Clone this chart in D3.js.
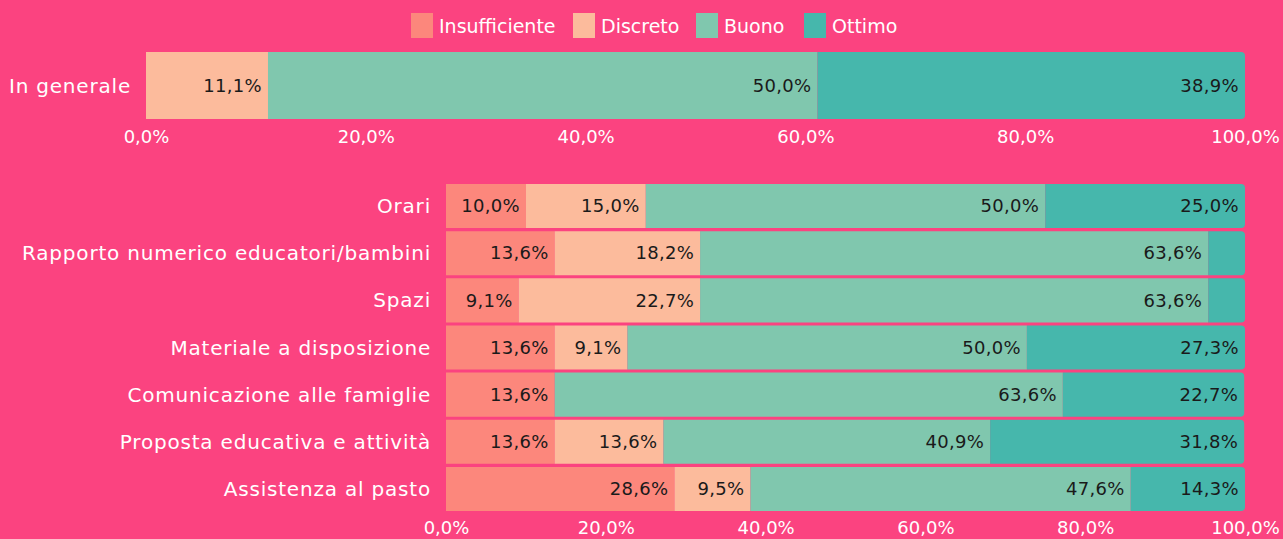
<html>
<head>
<script src="https://d3js.org/d3.v7.min.js"></script>
<style>
    body { margin: 0; }
</style>
</head>
<body>
<div id="graph"></div>
<script>
    var series = ["Insufficiente", "Discreto", "Buono", "Ottimo"];
    var colors = ["#fc877c", "#fcbb9c", "#80c7ae", "#46b7ac"];

    var topCategories = ["In generale"];
    var topValues = [
        [0, 11.1, 50.0, 38.9]
    ];

    var categories = ["Orari", "Rapporto numerico educatori/bambini", "Spazi", "Materiale a disposizione",
        "Comunicazione alle famiglie", "Proposta educativa e attività", "Assistenza al pasto"];
    var values = [
        [10.0, 15.0, 50.0, 25.0],
        [13.6, 18.2, 63.6, 4.6],
        [9.1, 22.7, 63.6, 4.6],
        [13.6, 9.1, 50.0, 27.3],
        [13.6, 0, 63.6, 22.7],
        [13.6, 13.6, 40.9, 31.8],
        [28.6, 9.5, 47.6, 14.3]
    ];
    var ticks = [0, 20, 40, 60, 80, 100];

    var W = 1283, H = 539;
    var fontFam = "'DejaVu Sans', sans-serif";
    var fmt = function(v) { return v.toFixed(1).replace(".", ",") + "%"; };

    var svg = d3.select("#graph").append("svg")
        .attr("width", W).attr("height", H)
        .style("display", "block")
        .style("font-family", fontFam);

    svg.append("rect").attr("width", W).attr("height", H).attr("fill", "#fb4380");

    var color = d3.scaleOrdinal().domain(series).range(colors);

    // legend
    var legendX = [411, 573, 696, 804];
    var legend = svg.append("g").selectAll("g")
        .data(series).enter().append("g")
        .attr("transform", function(d, i) { return "translate(" + legendX[i] + ",13)"; });
    legend.append("rect").attr("width", 22).attr("height", 25).attr("fill", function(d) { return color(d); });
    legend.append("text").attr("x", 28).attr("y", 13).attr("dy", "0.35em")
        .attr("fill", "#fff").style("font-size", "19px")
        .text(function(d) { return d; });

    function roundRight(x0, y0, w, h, r) {
        r = Math.min(r, w);
        return "M" + x0 + "," + y0 + "H" + (x0 + w - r) + "Q" + (x0 + w) + "," + y0 + " " + (x0 + w) + "," + (y0 + r)
            + "V" + (y0 + h - r) + "Q" + (x0 + w) + "," + (y0 + h) + " " + (x0 + w - r) + "," + (y0 + h)
            + "H" + x0 + "Z";
    }

    function drawChart(cats, vals, left, top, bottom, padding, axisY) {
        var x = d3.scaleLinear().domain([0, 100]).range([left, 1245]);
        var y = d3.scaleBand().domain(cats).range([top, bottom]).paddingInner(padding).paddingOuter(0);

        var g = svg.append("g");

        cats.forEach(function(cat, ci) {
            var row = vals[ci];
            var stack = [];
            var acc = 0;
            var last = -1;
            row.forEach(function(v, si) {
                stack.push({ s: series[si], v: v, x0: acc, x1: acc + v });
                acc += v;
                if (v > 0) last = si;
            });
            var rg = g.append("g");
            rg.selectAll("path").data(stack.filter(function(d) { return d.v > 0; }))
                .enter().append("path")
                .attr("fill", function(d) { return color(d.s); })
                .attr("d", function(d) {
                    var x0 = x(d.x0), x1 = x(Math.min(d.x1, 100));
                    var r = d.s === series[last] ? 4 : 0;
                    return roundRight(x0, y(cat), x1 - x0, y.bandwidth(), r);
                });
            rg.selectAll("text").data(stack.filter(function(d) { return d.v >= 8; }))
                .enter().append("text")
                .attr("x", function(d) { return x(Math.min(d.x1, 100)) - 6; })
                .attr("y", y(cat) + y.bandwidth() / 2)
                .attr("dy", "0.35em")
                .attr("text-anchor", "end")
                .attr("fill", "#1a1a1a")
                .style("font-size", "18px")
                .style("letter-spacing", "0.3px")
                .text(function(d) { return fmt(d.v); });

            g.append("text")
                .attr("x", left - 15)
                .attr("y", y(cat) + y.bandwidth() / 2)
                .attr("dy", "0.35em")
                .attr("text-anchor", "end")
                .attr("fill", "#fff")
                .style("font-size", "20px")
                .style("letter-spacing", "0.8px")
                .text(cat);
        });

        var axis = d3.axisBottom(x).tickValues(ticks).tickSize(0).tickFormat(function(d) { return fmt(d); });
        var ag = svg.append("g").attr("transform", "translate(0," + axisY + ")").call(axis);
        ag.select(".domain").remove();
        ag.selectAll("text").attr("fill", "#fff").attr("y", 0).attr("dy", "0.35em")
            .style("font-size", "18px").style("font-family", fontFam);
    }

    drawChart(topCategories, topValues, 146, 52, 119, 0, 137);
    drawChart(categories, values, 446, 184, 511, 0.065, 528);
</script>
</body>
</html>
